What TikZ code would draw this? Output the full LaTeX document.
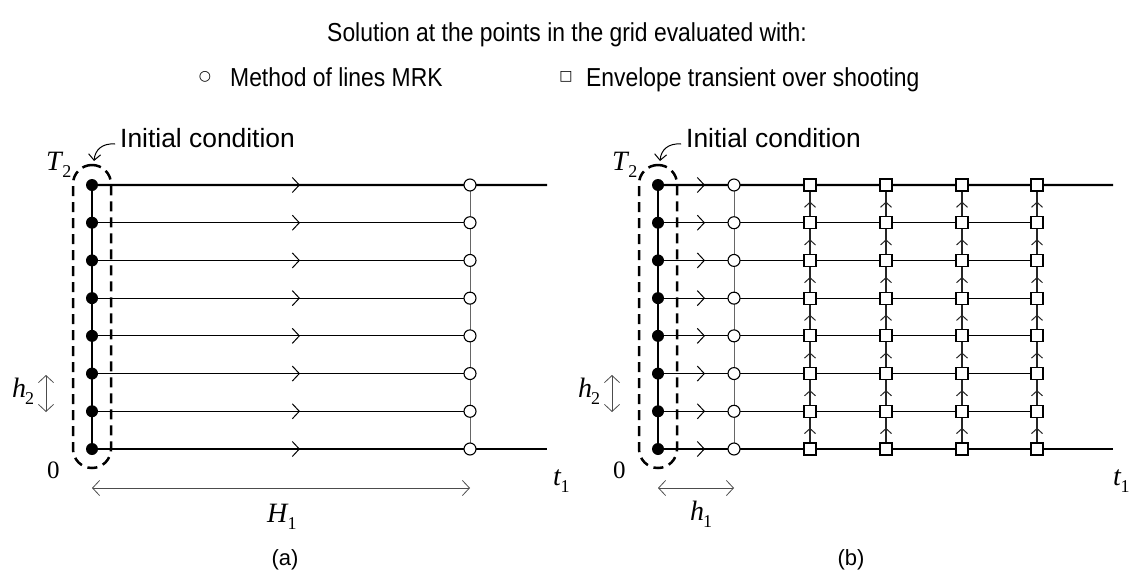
\documentclass[tikz,border=0pt]{standalone}
\usepackage{fontspec}
\setmainfont{Liberation Sans}
\newfontfamily\narrowsans[FakeStretch=0.88]{Liberation Sans}
\newfontfamily\tms{Liberation Serif}
\newfontfamily\djv{DejaVu Sans}
\usetikzlibrary{arrows.meta,decorations.markings,backgrounds,calc}
\newcommand{\mv}[2]{{\tms\fontsize{28}{28}\selectfont\itshape #1\/\kern-1pt\raisebox{-7pt}{\fontsize{18}{18}\selectfont\upshape #2}}}
\begin{document}
\begin{tikzpicture}[x=1pt,y=-1pt,
  dot/.style={circle,fill=black,inner sep=0pt,minimum size=12pt},
  mrk/.style={circle,draw,fill=white,inner sep=0pt,minimum size=12pt,line width=1.1pt},
  sqm/.style={rectangle,draw,fill=white,inner sep=0pt,minimum size=12pt,line width=1.1pt},
  thinl/.style={line width=1pt},
  bold/.style={line width=2.2pt},
  vline/.style={line width=1pt,black!60},
  sline/.style={line width=1.1pt,black!85},
  chev/.style={postaction={decorate},decoration={markings,mark=at position #1 with {\arrow{Straight Barb[length=7pt,width=15pt,line width=1pt]}}}},
  upchev/.style={postaction={decorate},decoration={markings,mark=at position 0.56 with {\arrow{Straight Barb[length=5pt,width=11pt,line width=1pt]}}}},
  dim/.style={line width=0.8pt,black!70,{Straight Barb[length=7pt,width=15pt]}-{Straight Barb[length=7pt,width=15pt]}},
  icbox/.style={draw,dash pattern=on 10pt off 6pt,line width=2.5pt,rounded corners=19pt,minimum width=38pt,minimum height=303pt,inner sep=0pt},
  txt/.style={font=\narrowsans\fontsize{26}{30}\selectfont,inner sep=0pt},
  ictxt/.style={font=\fontsize{26.4}{30}\selectfont,inner sep=0pt,anchor=base west},
  lab/.style={anchor=base west,inner sep=0pt},
  captxt/.style={font=\fontsize{22}{24}\selectfont,inner sep=0pt},
  symb/.style={inner sep=0pt,font=\djv\fontsize{14}{14}\selectfont},
]
\useasboundingbox (0,0) rectangle (1134,583);

% title and legend
\node[txt,anchor=base] (title) at (567,41.3) {Solution at the points in the grid evaluated with:};
\node[symb] (symc) at (205,77) {○};
\node[txt,anchor=base west] (leg1) at (230,86.3) {Method of lines MRK};
\node[symb] (syms) at (566,77) {□};
\node[txt,anchor=base west] (leg2) at (586,86.3) {Envelope transient over shooting};

% ---------------- panel (a)
\foreach \i in {0,...,7} {
  \pgfmathsetmacro{\yy}{449-37.714*\i}
  \node[dot] (a\i) at (92,\yy) {};
  \node[mrk] (ac\i) at (470,\yy) {};
}
\coordinate (ae0) at (547,449);
\coordinate (ae7) at (547,185);
\begin{scope}[on background layer]
  \draw[bold,chev=208pt] (a0.center) -- (ae0);
  \draw[bold,chev=208pt] (a7.center) -- (ae7);
  \foreach \i in {1,...,6} \draw[thinl,chev=208pt] (a\i.center) -- (ac\i.center);
  \draw[vline] (ac0.center) -- (ac7.center);
  \draw[bold] (a0.center) -- (a7.center);
\end{scope}
\node[icbox] (ica) at (92,316.5) {};
\node[ictxt] (icla) at (120,147) {Initial condition};
\coordinate (icsa) at (115,144);
\coordinate (icta) at (94,161);
\draw[thinl,-{Straight Barb[length=6pt,width=12pt,line width=1pt]}] (icsa) .. controls +(-13,-1) and +(1,-11) .. (icta);

\coordinate (Hl) at (92,488);
\coordinate (Hr) at (470,488);
\draw[dim] (Hl) -- (Hr);
\coordinate (v2a) at (46,375);
\coordinate (v2b) at (46,412);
\draw[dim] (v2a) -- (v2b);

\node[lab] (T2a) at (46,170) {\mv{T}{2}};
\node[lab] (h2a) at (12,397) {\mv{h}{2}};
\node[lab] (za) at (47,478) {\tms\fontsize{25}{25}\selectfont 0};
\node[lab] (t1a) at (553,485) {\mv{t}{1}};
\node[lab] (H1a) at (267,522) {\mv{H}{1}};
\node[captxt] (capa) at (285,560) {(a)};

% ---------------- panel (b)
\foreach \i in {0,...,7} {
  \pgfmathsetmacro{\yy}{449-37.714*\i}
  \node[dot] (b\i) at (658,\yy) {};
  \node[mrk] (bc\i) at (734,\yy) {};
  \node[sqm] (s1\i) at (810,\yy) {};
  \node[sqm] (s2\i) at (886,\yy) {};
  \node[sqm] (s3\i) at (962,\yy) {};
  \node[sqm] (s4\i) at (1037,\yy) {};
}
\coordinate (be0) at (1113,449);
\coordinate (be7) at (1113,185);
\begin{scope}[on background layer]
  \draw[bold,chev=47pt] (b0.center) -- (be0);
  \draw[bold,chev=47pt] (b7.center) -- (be7);
  \foreach \i in {1,...,6} \draw[thinl,chev=47pt] (b\i.center) -- (s4\i.center);
  \draw[vline] (bc0.center) -- (bc7.center);
  \foreach \c in {1,...,4} {
    \foreach \i [evaluate=\i as \j using int(\i+1)] in {0,...,6}
      \draw[sline,upchev] (s\c\i.center) -- (s\c\j.center);
  }
  \draw[bold] (b0.center) -- (b7.center);
\end{scope}
\node[icbox] (icb) at (658,316.5) {};
\node[ictxt] (iclb) at (686,147) {Initial condition};
\coordinate (icsb) at (681,144);
\coordinate (ictb) at (660,161);
\draw[thinl,-{Straight Barb[length=6pt,width=12pt,line width=1pt]}] (icsb) .. controls +(-13,-1) and +(1,-11) .. (ictb);

\coordinate (hl) at (658,488);
\coordinate (hr) at (734,488);
\draw[dim] (hl) -- (hr);
\coordinate (v2c) at (612,375);
\coordinate (v2d) at (612,412);
\draw[dim] (v2c) -- (v2d);

\node[lab] (T2b) at (612,170) {\mv{T}{2}};
\node[lab] (h2b) at (578,397) {\mv{h}{2}};
\node[lab] (zb) at (613,478) {\tms\fontsize{25}{25}\selectfont 0};
\node[lab] (t1b) at (1113,485) {\mv{t}{1}};
\node[lab] (h1b) at (690,520) {\mv{h}{1}};
\node[captxt] (capb) at (851,560) {(b)};
\end{tikzpicture}
\end{document}
